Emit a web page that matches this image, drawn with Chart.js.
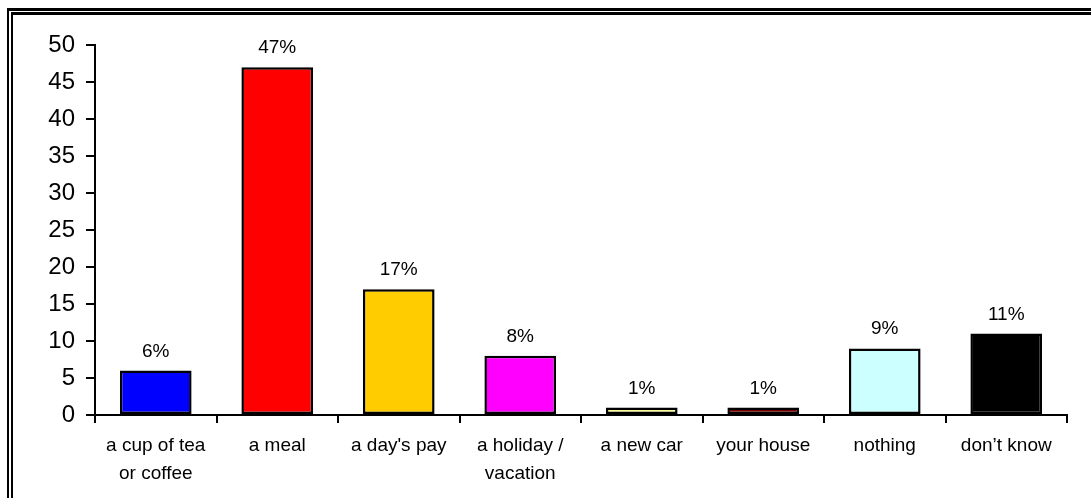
<!DOCTYPE html>
<html>
<head>
<meta charset="utf-8">
<script src="https://cdn.jsdelivr.net/npm/chart.js@4/dist/chart.umd.min.js"></script>
<style>
  html, body { margin:0; padding:0; background:#fff; overflow:hidden; width:1091px; height:498px; }
  .frame { position:absolute; border:2px solid #000; border-top-width:3px; }
  #outer { left:7px; top:8px; width:1200px; height:600px; }
  #inner { left:11px; top:12px; width:1200px; height:600px; }
  #chart { position:absolute; left:0; top:0; }
</style>
</head>
<body>
<div class="frame" id="outer"></div>
<div class="frame" id="inner"></div>
<canvas id="chart" width="1091" height="498"></canvas>
<script>
const categories = [['a cup of tea','or coffee'], 'a meal', "a day's pay", ['a holiday /','vacation'], 'a new car', 'your house', 'nothing', 'don\u2019t know'];
const values = [6, 47, 17, 8, 1, 1, 9, 11];
const valueLabels = ['6%', '47%', '17%', '8%', '1%', '1%', '9%', '11%'];
const barColors = ['#0000FF', '#FF0000', '#FFCC00', '#FF00FF', '#FFFF99', '#800000', '#CCFFFF', '#000000'];

const FONT = "'Liberation Sans', Arial, sans-serif";

// percentage labels above each bar
const barLabels = {
  id: 'barLabels',
  afterDatasetsDraw(chart){
    const ctx = chart.ctx;
    const meta = chart.getDatasetMeta(0);
    ctx.save();
    ctx.font = '19px ' + FONT;
    ctx.fillStyle = '#000';
    ctx.textAlign = 'center';
    ctx.textBaseline = 'alphabetic';
    meta.data.forEach((bar, i) => {
      ctx.fillText(valueLabels[i], bar.x, bar.y - 14);
    });
    ctx.restore();
  }
};

new Chart(document.getElementById('chart'), {
  type: 'bar',
  data: {
    labels: categories,
    datasets: [{
      data: values,
      backgroundColor: barColors,
      borderColor: '#000',
      borderWidth: 2.5,
      borderSkipped: false,
      categoryPercentage: 1,
      barPercentage: 0.59
    }]
  },
  options: {
    responsive: false,
    animation: false,
    layout: { padding: { left: 0, right: 24, top: 45, bottom: 0 } },
    plugins: { legend: { display: false }, tooltip: { enabled: false } },
    scales: {
      x: {
        afterFit(s){ s.height = 83; },
        grid: { display: true, drawOnChartArea: false, drawTicks: true, tickLength: 8, color: '#000', lineWidth: 2, offset: true },
        border: { display: true, color: '#000', width: 2 },
        ticks: { color: '#000', font: { family: FONT, size: 19, lineHeight: 1.45 }, padding: 9, maxRotation: 0, autoSkip: false }
      },
      y: {
        min: 0, max: 50,
        afterFit(s){ s.width = 95; },
        grid: { display: true, drawOnChartArea: false, drawTicks: true, tickLength: 9, color: '#000', lineWidth: 2 },
        border: { display: true, color: '#000', width: 2 },
        ticks: { stepSize: 5, color: '#000', font: { family: FONT, size: 24 }, padding: 11 }
      }
    }
  },
  plugins: [barLabels]
});
</script>
</body>
</html>
